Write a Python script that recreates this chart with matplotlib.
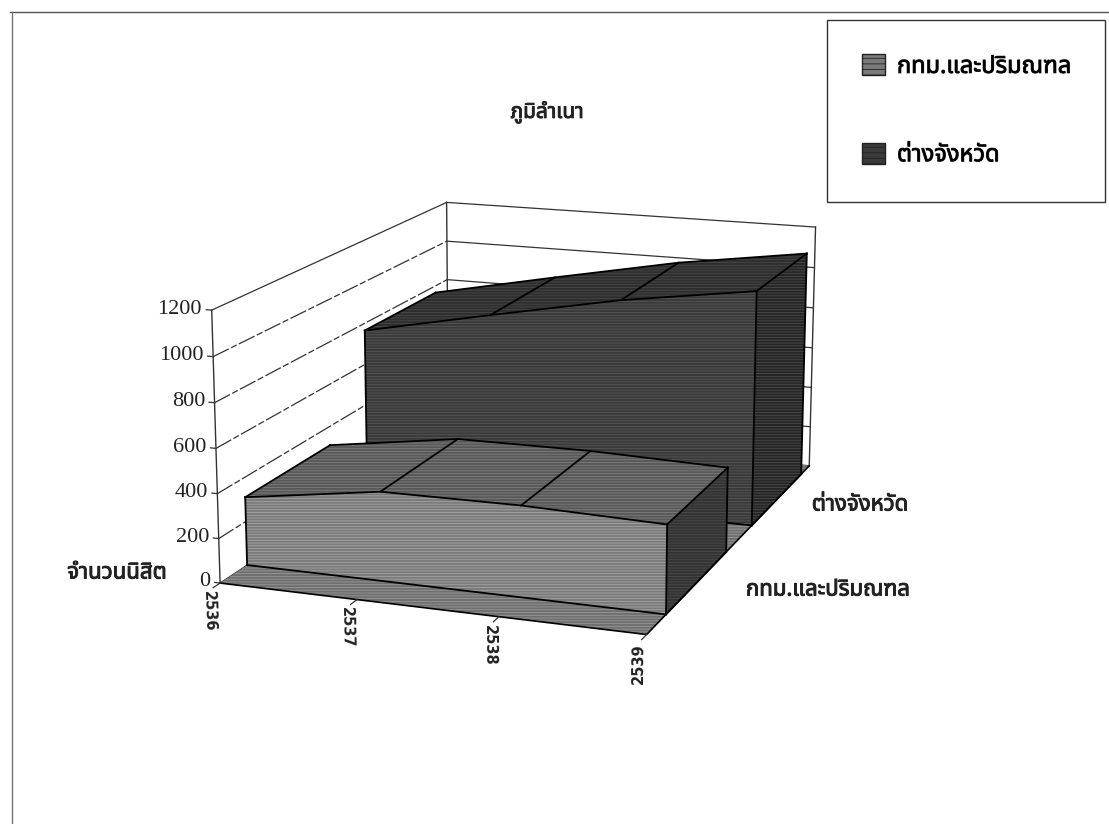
import matplotlib
matplotlib.use('Agg')
import matplotlib.pyplot as plt
import matplotlib.patheffects as pe
from matplotlib.lines import Line2D
from matplotlib.patches import Patch
from mpl_toolkits.mplot3d.art3d import Poly3DCollection

plt.rcParams['font.family'] = ['Noto Sans Thai', 'Noto Serif Thai', 'Loma', 'Garuda', 'Noto Sans', 'DejaVu Sans']
plt.rcParams['hatch.linewidth'] = 0.6

# data
years = ['2536', '2537', '2538', '2539']
series_names = ['กทม.และปริมณฑล', 'ต่างจังหวัด']
bangkok = [310, 400, 405, 390]
province = [765, 890, 1010, 1100]
z_ticks = [0, 200, 400, 600, 800, 1000, 1200]

thick = [pe.withStroke(linewidth=0.7, foreground='#222222')]

fig = plt.figure(figsize=(11.09, 8.24), dpi=100)
ax = fig.add_axes([22 / 1109, -84 / 824, 1000 / 1109, 1000 / 824], projection='3d')
ax.patch.set_alpha(0)
ax.set_proj_type('persp', focal_length=0.5)
ax.view_init(elev=14.5, azim=-70)
ax.set_box_aspect((400, 550, 250), zoom=0.74)
ax.computed_zorder = False
ax.set_axis_off()
ax.set_xlim(0, 3, view_margin=0)
ax.set_ylim(0, 2, view_margin=0)
ax.set_zlim(0, 1200, view_margin=0)


def face(verts, color, hatch_color, z):
    poly = Poly3DCollection([verts], facecolor=color, edgecolor=hatch_color, linewidth=0, hatch='------', zorder=z)
    ax.add_collection3d(poly)


def edge(xs, ys, zs, z, color='black', lw=1.3, ls='-'):
    ax.plot(xs, ys, zs, color=color, lw=lw, ls=ls, zorder=z)


# walls and grid
for t in z_ticks:
    # the scan breaks up the inner grid lines on the left wall
    ls = (0, (14, 2, 5, 2)) if 0 < t < 1200 else '-'
    edge([0, 0], [0, 2], [t, t], 1, color='#333333', lw=0.9, ls=ls)
    edge([0, 3], [2, 2], [t, t], 1, color='#333333', lw=0.9)
    edge([-0.04, 0], [0, 0], [t, t], 1, color='#333333', lw=0.9)
    ax.text(-0.07, 0, t, str(t), ha='right', va='center', fontsize=16, family='Liberation Serif', color='#222222')
edge([0, 0], [0, 0], [0, 1200], 1, color='#333333', lw=1)
edge([0, 0], [2, 2], [0, 1200], 1, color='#333333', lw=1)
edge([3, 3], [2, 2], [0, 1200], 1, color='#333333', lw=1)

# floor
face([(0, 0, 0), (3, 0, 0), (3, 2, 0), (0, 2, 0)], '#6f6f6f', '#989898', 2)
edge([0, 3, 3], [0, 0, 2], [0, 0, 0], 3, lw=1.2)

for i, year in enumerate(years):
    edge([i, i], [0, -0.05], [0, 0], 3, color='#333333', lw=0.9)
    ax.text(i, -0.08, 0, year, zdir='z', ha='center', va='top', fontsize=10.5, fontweight='bold', family='DejaVu Sans', color='#222222')


def block(values, y0, y1, front, top, side, hatch_front, hatch_top, z):
    n = len(values)
    # side and top first, front last
    face([(n - 1, y0, 0), (n - 1, y1, 0), (n - 1, y1, values[-1]), (n - 1, y0, values[-1])], side, '#4a4a4a', z)
    for i in range(n - 1):
        face([(i, y0, values[i]), (i + 1, y0, values[i + 1]), (i + 1, y1, values[i + 1]), (i, y1, values[i])], top, hatch_top, z)
    verts = [(i, y0, values[i]) for i in range(n)] + [(n - 1, y0, 0), (0, y0, 0)]
    face(verts, front, hatch_front, z + 0.1)
    # outlines
    xs = list(range(n))
    edge(xs, [y0] * n, values, z + 0.2)
    edge(xs, [y1] * n, values, z + 0.2)
    for i in range(n):
        edge([i, i], [y0, y1], [values[i], values[i]], z + 0.2)
    edge([0, 3], [y0, y0], [0, 0], z + 0.2)
    edge([0, 0], [y0, y0], [0, values[0]], z + 0.2)
    edge([3, 3], [y0, y0], [0, values[-1]], z + 0.2)
    edge([3, 3], [y1, y1], [0, values[-1]], z + 0.2)
    edge([3, 3], [y0, y1], [0, 0], z + 0.2)


block(province, 1.2, 1.88, '#3a3a3a', '#2e2e2e', '#262626', '#565656', '#484848', 4)
block(bangkok, 0.2, 0.88, '#7a7a7a', '#585858', '#333333', '#a4a4a4', '#7e7e7e', 6)

# series names and title, placed in figure space
fig.text(860 / 1109, 1 - 505 / 824, series_names[1], ha='center', va='center', fontsize=16, color='#222222', path_effects=thick)
fig.text(828 / 1109, 1 - 590 / 824, series_names[0], ha='center', va='center', fontsize=16, color='#222222', path_effects=thick)
fig.text(547 / 1109, 1 - 112 / 824, 'ภูมิลำเนา', ha='center', va='center', fontsize=15, color='#222222', path_effects=thick)
fig.text(117 / 1109, 1 - 573 / 824, 'จำนวนนิสิต', ha='center', va='center', fontsize=16, color='#222222', path_effects=thick)

# page frame
fig.add_artist(Line2D([10 / 1109, 1], [1 - 12 / 824, 1 - 12 / 824], color='#555555', lw=1))
fig.add_artist(Line2D([12 / 1109, 12 / 1109], [1 - 12 / 824, 0], color='#777777', lw=1))

handles = [Patch(facecolor='#7a7a7a', edgecolor='#222222', hatch='---', label=series_names[0]),
           Patch(facecolor='#3a3a3a', edgecolor='#222222', hatch='---', label=series_names[1])]
leg = fig.legend(handles=handles, loc='upper right', bbox_to_anchor=(1105 / 1109, 1 - 20 / 824), borderaxespad=0,
                 fancybox=False, edgecolor='#333333', framealpha=1, handlelength=1, handleheight=1, handletextpad=0.5,
                 labelspacing=2.7, borderpad=1.45, prop={'size': 17})
for t in leg.get_texts():
    t.set_path_effects(thick)

fig.savefig('out.png', dpi=100)
